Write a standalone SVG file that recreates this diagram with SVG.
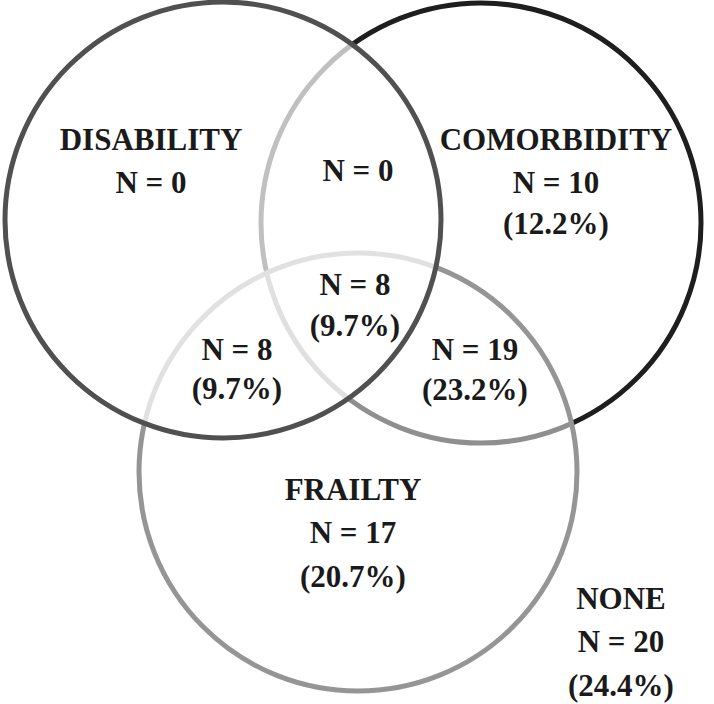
<svg xmlns="http://www.w3.org/2000/svg" width="714" height="704" viewBox="0 0 714 704">
<style>
.c{stroke-width:5;}
.t{font-family:"Liberation Serif","Times New Roman",serif;font-weight:bold;font-size:31px;fill:#1a1a1a;text-anchor:middle;}
</style>
<rect width="714" height="704" fill="#fff"/>
<g id="comorbidity">
<circle class="c" cx="481" cy="223" r="220" fill="#fff" fill-opacity="0" stroke="#1e1e1e"/>
</g>
<g id="frailty">
<circle class="c" cx="358" cy="472" r="219" fill="#fff" fill-opacity="0.5" stroke="#959595"/>
</g>
<g id="disability">
<circle class="c" cx="223" cy="220" r="218" fill="#fff" fill-opacity="0.72" stroke="#505050"/>
</g>
<g id="connectors"></g>
<g id="labels">
<text class="t" x="151" y="150">DISABILITY</text>
<text class="t" x="151" y="193">N = 0</text>
<text class="t" x="358" y="181">N = 0</text>
<text class="t" x="556" y="150">COMORBIDITY</text>
<text class="t" x="556" y="193">N = 10</text>
<text class="t" x="556" y="234">(12.2%)</text>
<text class="t" x="355" y="295">N = 8</text>
<text class="t" x="355" y="336">(9.7%)</text>
<text class="t" x="237" y="360">N = 8</text>
<text class="t" x="237" y="399">(9.7%)</text>
<text class="t" x="475" y="360">N = 19</text>
<text class="t" x="475" y="400">(23.2%)</text>
<text class="t" x="353" y="500">FRAILTY</text>
<text class="t" x="353" y="543">N = 17</text>
<text class="t" x="353" y="587">(20.7%)</text>
<text class="t" x="621" y="609">NONE</text>
<text class="t" x="621" y="652">N = 20</text>
<text class="t" x="621" y="696">(24.4%)</text>
</g>
</svg>
